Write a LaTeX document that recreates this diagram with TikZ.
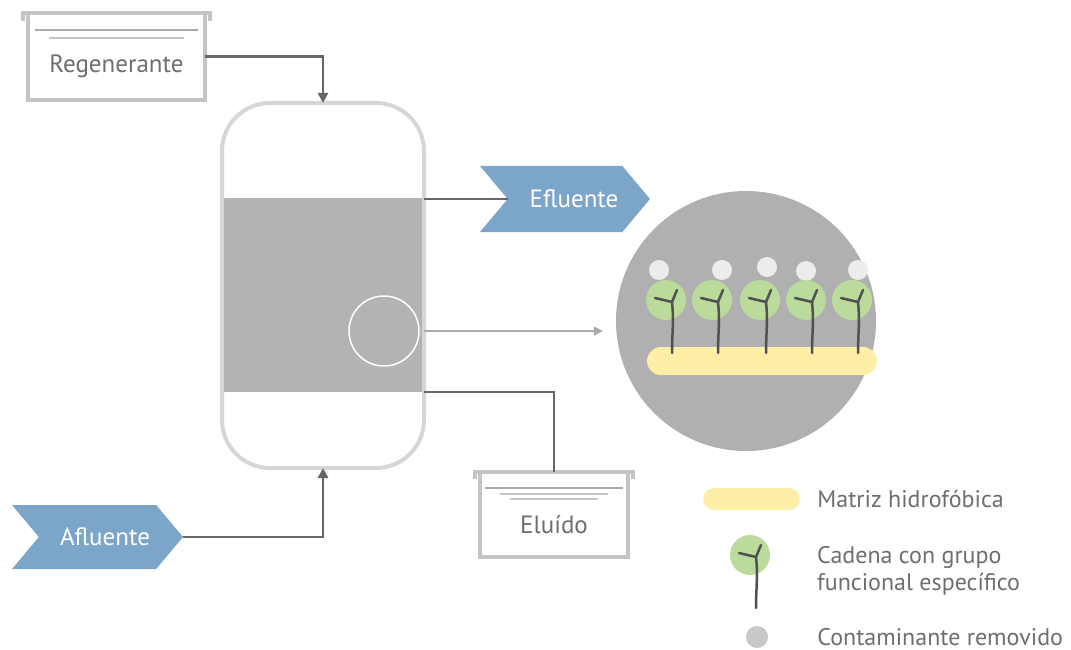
\documentclass[tikz,border=0pt]{standalone}
\usepackage{fontspec}
\setmainfont{PT Sans}
\definecolor{colrim}{RGB}{196,196,196}
\definecolor{collevel}{RGB}{170,170,170}
\definecolor{coltext}{RGB}{110,110,110}
\definecolor{colpipe}{RGB}{102,102,102}
\definecolor{colvessel}{RGB}{214,214,214}
\definecolor{colband}{RGB}{179,179,179}
\definecolor{colflow}{RGB}{123,166,201}
\definecolor{coldetail}{RGB}{176,176,176}
\definecolor{colmatrix}{RGB}{253,240,166}
\definecolor{colgroup}{RGB}{186,219,155}
\definecolor{colremoved}{RGB}{236,236,236}
\definecolor{colkeydot}{RGB}{200,200,200}
\definecolor{colstem}{RGB}{80,80,80}
\usetikzlibrary{
	arrows.meta,
	shapes.symbols,
	positioning
}
\tikzset{
	>={Triangle[length=10pt, width=10pt]},
	pipe/.style={draw=colpipe, line width=2.5pt},
	zoomarrow/.style={draw=collevel, line width=1.5pt, ->, >={Triangle[length=9pt, width=9pt]}, shorten >=13pt},
	vessel/.style={draw=colvessel, line width=4pt, rounded corners=48pt, minimum width=202pt, minimum height=365pt, outer sep=0pt},
	tank/.style={draw=colrim, line width=4pt, fill=white, outer sep=0pt},
	rim/.style={draw=colrim, line width=4pt},
	level/.style={draw=collevel, line width=2.5pt},
	level2/.style={draw=colrim, line width=2pt},
	tanklabel/.style={text=coltext, font=\fontsize{25}{30}\selectfont, inner sep=0pt},
	chevron/.style={shape=signal, signal to=east, signal from=west, signal pointer angle=100, fill=colflow, inner sep=0pt, outer sep=0pt},
	chevrontext/.style={text=white, font=\fontsize{25}{30}\selectfont, inner sep=0pt},
	lens/.style={circle, draw=white, line width=1.5pt, minimum size=70pt, inner sep=0pt},
	detail/.style={circle, fill=coldetail, minimum size=260pt, inner sep=0pt},
	matrixbar/.style={fill=colmatrix, rounded corners=11pt},
	stem/.style={draw=colstem, line width=2.5pt, line cap=round, line join=round},
	keytext/.style={text=coltext, font=\fontsize{24}{27.5}\selectfont, inner sep=0pt, anchor=west, align=left},
	keydot/.style={circle, fill=colkeydot, minimum size=22pt, inner sep=0pt},
	chain/.pic={
		\fill[colgroup] (0,0) circle (20pt);
		\draw[stem] (-11,-2) -- (6,2) -- (11,-10);
		\draw[stem] (6,2) .. controls (8,20) and (6,35) .. (6,53);
	}
}

\begin{document}
\begin{tikzpicture}[x=1pt, y=-1pt]
	\useasboundingbox (0,0) rectangle (1071,650);

	% column with the packed bed
	\fill[colband] (222,198) rectangle (424,392);
	\node[vessel] (column) at (323,285.5) {};
	\node[lens] (lens) at (384,331) {};
	\coordinate (drain) at (424,392);

	% regenerant tank
	\node[tank, minimum width=177pt, minimum height=87pt] (regen) at (116.5,56.5) {};
	\draw[rim] ([shift={(-5pt,-8pt)}]regen.north west) -- ([xshift=-5pt]regen.north west)
		-- ([xshift=5pt]regen.north east) -- ([shift={(5pt,-8pt)}]regen.north east);
	\draw[level] ([shift={(7pt,-17pt)}]regen.north west) -- ([shift={(-7pt,-17pt)}]regen.north east);
	\draw[level2] ([shift={(21pt,-25pt)}]regen.north west) -- ([shift={(-21pt,-25pt)}]regen.north east);
	\node[tanklabel] (regenlabel) at ([yshift=-10pt]regen.center) {Regenerante};

	% eluate tank
	\node[tank, minimum width=148pt, minimum height=85pt] (eluido) at (554,514.5) {};
	\draw[rim] ([shift={(-5pt,-7pt)}]eluido.north west) -- ([xshift=-5pt]eluido.north west)
		-- ([xshift=5pt]eluido.north east) -- ([shift={(5pt,-7pt)}]eluido.north east);
	\draw[level] ([shift={(5pt,-16pt)}]eluido.north west) -- ([shift={(-5pt,-16pt)}]eluido.north east);
	\draw[level2] ([shift={(20pt,-22pt)}]eluido.north west) -- ([shift={(-20pt,-22pt)}]eluido.north east);
	\draw[level2] ([shift={(30pt,-27pt)}]eluido.north west) -- ([shift={(-30pt,-27pt)}]eluido.north east);
	\node[tanklabel] (eluidolabel) at ([yshift=-10.5pt]eluido.center) {Eluído};

	% streams
	\node[chevron, minimum width=170pt, minimum height=66pt,
		label={[chevrontext, xshift=9pt]center:Efluente}] (efluente) at (565,199) {};
	\node[chevron, minimum width=171pt, minimum height=64pt,
		label={[chevrontext, xshift=7.5pt]center:Afluente}] (afluente) at (97.5,537) {};

	\draw[pipe, ->] (regen.east) -| (column.north);
	\draw[pipe, ->] (afluente.east) -| (column.south);
	\draw[pipe] (efluente.west -| column.east) -- (efluente.west);
	\draw[pipe] (drain) -| (eluido.north);

	% close-up of the sorbent
	\node[detail] (detail) at (746,321) {};
	\draw[zoomarrow] (lens.east -| column.east) -- (lens.east -| detail.west);
	\node[matrixbar, minimum width=230pt, minimum height=28pt, rounded corners=14pt] (bar) at (762,361) {};
	\foreach \gx/\cx/\cy in {666/659/270, 712/722/270, 760/767/267, 806/806/271, 852/858/270} {
		\fill[colremoved] (\cx,\cy) circle (10pt);
		\pic at (\gx,300) {chain};
	}

	% key
	\node[matrixbar, minimum width=97pt, minimum height=22pt] (keymatrix) at (751.5,499) {};
	\node[keytext, right=17pt of keymatrix] (keymatrixlabel) {Matriz hidrofóbica};
	\pic at (750,555) {chain};
	\node[keytext] (keychainlabel) at (817,571) {Cadena con grupo\\funcional específico};
	\node[keydot] (keydot) at (757,637) {};
	\node[keytext, right=49pt of keydot] (keydotlabel) {Contaminante removido};
\end{tikzpicture}
\end{document}
